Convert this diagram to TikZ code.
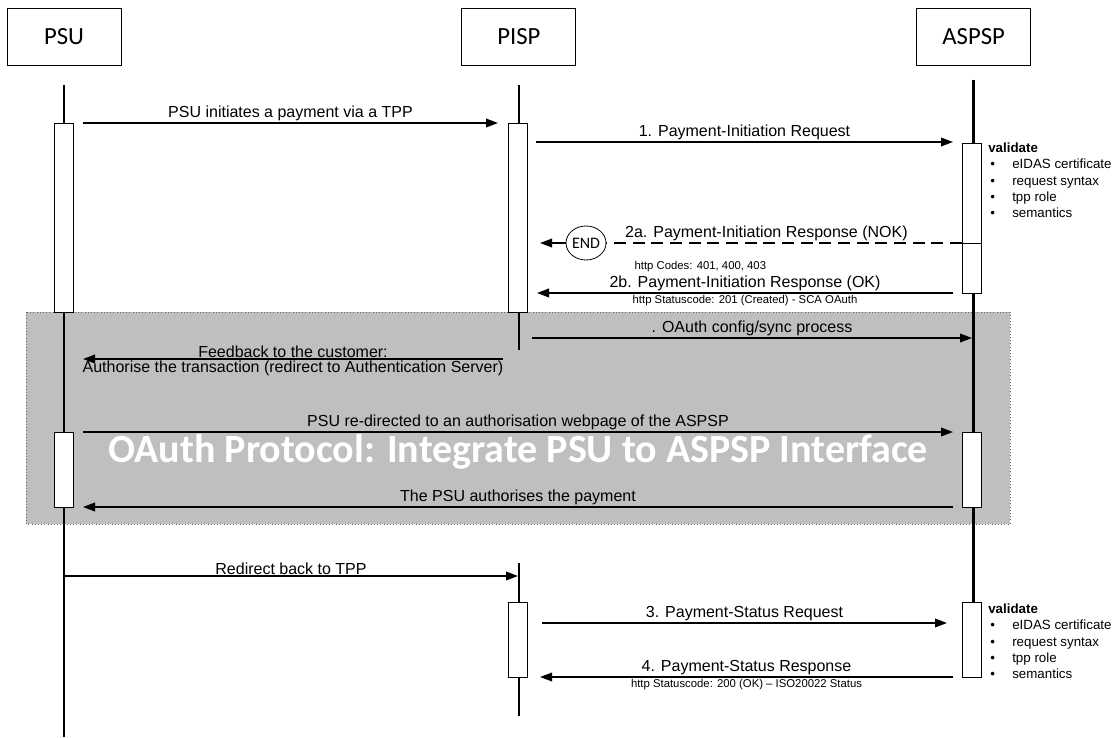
\documentclass[tikz,border=0pt]{standalone}
\usepackage{fontspec}
\setmainfont{Liberation Sans}
\newfontfamily\calibri{Carlito}
\usetikzlibrary{arrows.meta, positioning, shapes.geometric}

\begin{document}
\begin{tikzpicture}[x=0.75pt, y=-0.75pt, >={Triangle[length=9pt,width=6.5pt]},
    party/.style={draw, line width=0.6pt, minimum width=85.5pt, minimum height=42.75pt,
                  font=\calibri\fontsize{18.5}{22}\selectfont},
    life/.style={line width=1.8pt},
    act/.style={draw, fill=white, line width=0.6pt},
    msg/.style={->, line width=1.1pt},
    lbl/.style={font=\fontsize{12}{14}\selectfont, inner sep=0.8pt},
    note/.style={font=\fontsize{8.5}{10}\selectfont, inner sep=1pt},
    item/.style={font=\fontsize{10}{12}\selectfont, inner sep=0pt, anchor=west,
                 text height=1.6ex, text depth=0.3ex}]

\useasboundingbox (0,0) rectangle (1116,738);

% participants
\node[party] (psu) at (64,37) {PSU};
\node[party, right=255pt of psu] (pisp) {PISP};
\node[party, right=255pt of pisp] (aspsp) {ASPSP};

% oauth frame
\fill[black!25] (26,312) rectangle (1010,524);
\draw[black!60, dotted, line width=0.4pt] (26,312) rectangle (1010,524);
\node[font=\calibri\bfseries\fontsize{30}{34}\selectfont, text=white, anchor=base, inner sep=0pt] (wm) at (518,462)
    {OAuth Protocol: Integrate PSU to ASPSP Interface};

% lifelines
\draw[life] (psu |- 0,85) -- (psu |- 0,737);
\draw[life] (pisp |- 0,85) -- (pisp |- 0,350);
\draw[life] (pisp |- 0,563) -- (pisp |- 0,716);
\draw[life] (aspsp |- 0,80) -- (aspsp |- 0,602);

% activations
\foreach \x/\a/\b in {64/123/312, 518/123/312, 972/143/293, 64/432/507, 972/432/507, 518/602/677, 972/602/677}
    \draw[act] (\x-9.5,\a) rectangle (\x+9.5,\b);
\draw[act] (962.5,243) -- (981.5,243);

% message ends
\coordinate (s0) at (83,123);  \coordinate (e0) at (498,123);
\coordinate (s1) at (536,142); \coordinate (e1) at (953,142);
\coordinate (s2) at (962,243); \coordinate (e2) at (540,243);
\coordinate (s3) at (953,293); \coordinate (e3) at (537,293);
\coordinate (s4) at (532,338); \coordinate (e4) at (972,338);
\coordinate (s5) at (503,359); \coordinate (e5) at (83,359);
\coordinate (s6) at (83,432);  \coordinate (e6) at (953,432);
\coordinate (s7) at (953,507); \coordinate (e7) at (83,507);
\coordinate (s8) at (64,576);  \coordinate (e8) at (518,576);
\coordinate (s9) at (542,623); \coordinate (e9) at (947,623);
\coordinate (s10) at (953,677); \coordinate (e10) at (540,677);

\node[draw, ellipse, line width=0.6pt, minimum width=30pt, minimum height=25.5pt, inner sep=0pt,
      font=\calibri\fontsize{12}{14}\selectfont] (end) at (586,243) {END};

\draw[msg] (s0) -- node[lbl, above] {PSU initiates a payment via a TPP} (e0);
\draw[msg] (s1) -- node[lbl, above] {1. Payment-Initiation Request} (e1);
\draw[line width=1.1pt, dash pattern=on 9pt off 5pt] (s2) -- node[lbl, above, pos=0.55] {2a. Payment-Initiation Response (NOK)} (end);
\draw[msg] (end) -- (e2);
\node[note, anchor=north west] (codes) at (633,260) {http Codes: 401, 400, 403};
\draw[msg] (s3) -- node[lbl, above] {2b. Payment-Initiation Response (OK)}
                   node[note, below] {http Statuscode: 201 (Created) - SCA OAuth} (e3);
\draw[msg] (s4) -- node[lbl, above] {. OAuth config/sync process} (e4);
\draw[msg] (s5) -- node[lbl, above] {Feedback to the customer:}
                   node[lbl, below] {Authorise the transaction (redirect to Authentication Server)} (e5);
\draw[msg] (s6) -- node[lbl, above] {PSU re-directed to an authorisation webpage of the ASPSP} (e6);
\draw[msg] (s7) -- node[lbl, above] {The PSU authorises the payment} (e7);
\draw[msg] (s8) -- node[lbl, above] {Redirect back to TPP} (e8);
\draw[msg] (s9) -- node[lbl, above] {3. Payment-Status Request} (e9);
\draw[msg] (s10) -- node[lbl, above] {4. Payment-Status Response}
                    node[note, below] {http Statuscode: 200 (OK) -- ISO20022 Status} (e10);

% validation notes
\foreach \y/\n in {148/a, 609/b} {
    \node[item, font=\bfseries\fontsize{10}{12}\selectfont] (val\n) at (988,\y) {validate};
    \foreach \t [count=\i] in {eIDAS certificate, request syntax, tpp role, semantics} {
        \node[item] (dot\n\i) at (990,\y+16.3*\i) {\textbullet};
        \node[item] (chk\n\i) at (1012,\y+16.3*\i) {\t};
    }
}
\end{tikzpicture}
\end{document}
